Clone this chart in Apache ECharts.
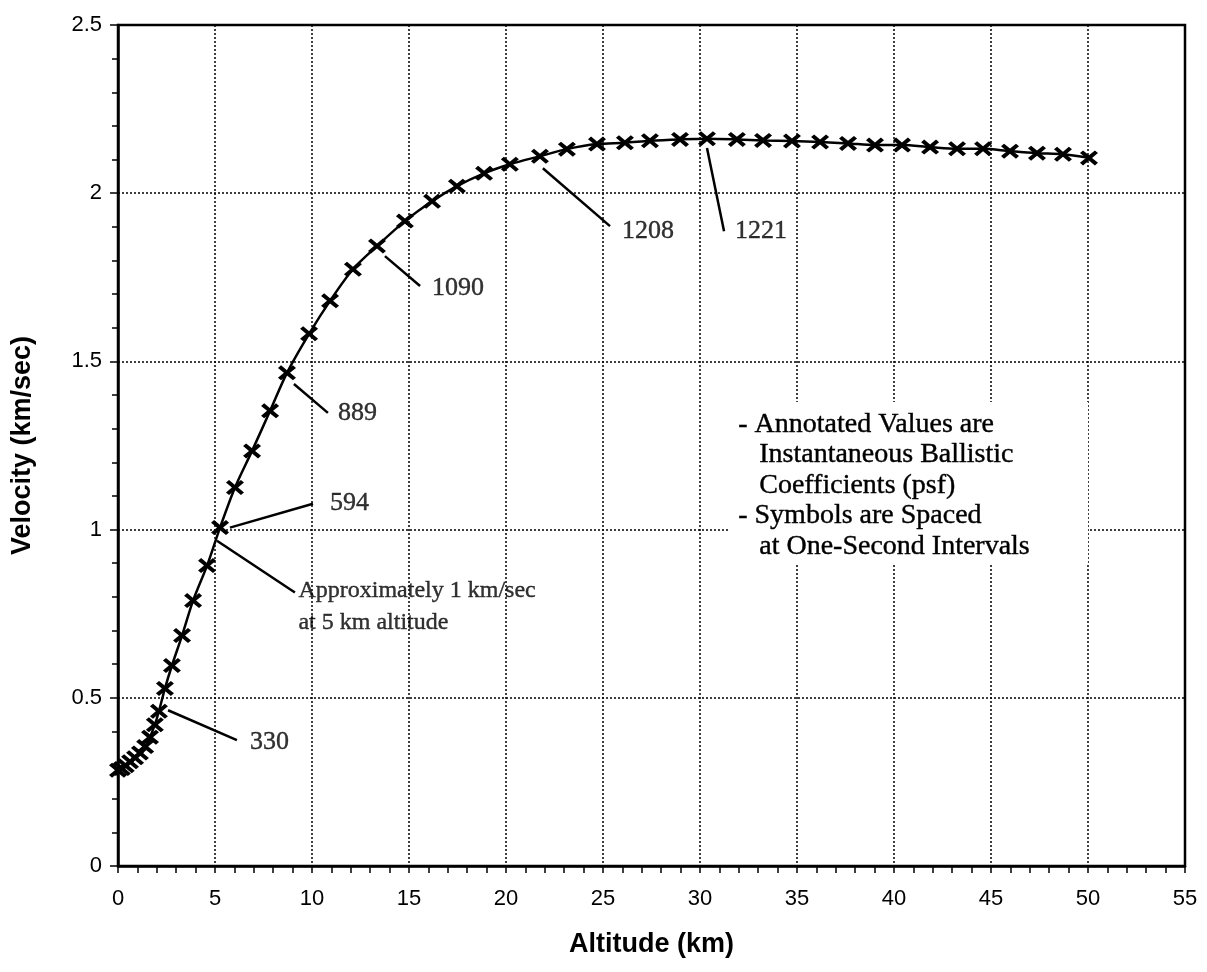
<!DOCTYPE html>
<html><head><meta charset="utf-8">
<script src="https://cdn.jsdelivr.net/npm/echarts@6/dist/echarts.min.js"></script>
<style>html,body{margin:0;padding:0;background:#fff}#c{width:1207px;height:972px}</style>
</head><body><div id="c"></div>
<script>
// Data (altitude km, velocity km/s), one-second intervals
const altitude = [0, 0.2, 0.4, 0.62, 0.88, 1.13, 1.4, 1.65, 1.9, 2.11, 2.42, 2.78, 3.3, 3.87, 4.59, 5.26, 6.03, 6.91, 7.84, 8.71, 9.85, 10.93, 12.11, 13.35, 14.79, 16.19, 17.47, 18.87, 20.2, 21.75, 23.14, 24.69, 26.13, 27.42, 28.97, 30.36, 31.9, 33.25, 34.74, 36.19, 37.63, 39.02, 40.41, 41.86, 43.25, 44.59, 45.98, 47.37, 48.71, 50.05];
const velocity = [0.285, 0.29, 0.298, 0.31, 0.322, 0.336, 0.355, 0.383, 0.42, 0.46, 0.528, 0.596, 0.685, 0.789, 0.893, 1.006, 1.125, 1.234, 1.353, 1.466, 1.582, 1.68, 1.774, 1.843, 1.917, 1.976, 2.021, 2.059, 2.086, 2.11, 2.131, 2.146, 2.150, 2.156, 2.160, 2.162, 2.160, 2.157, 2.155, 2.152, 2.148, 2.143, 2.143, 2.137, 2.132, 2.132, 2.125, 2.119, 2.116, 2.105];
const xTicks = [0, 5, 10, 15, 20, 25, 30, 35, 40, 45, 50, 55];
const yTicks = [0, 0.5, 1, 1.5, 2, 2.5];

// Annotations: label text, leader start [alt, vel], leader end, text anchor (left-middle)
const annLabels = ['330', '594', 'Approximately 1 km/sec\nat 5 km altitude', '889', '1090', '1208', '1221'];
const annStart = [[2.58, 0.463], [5.77, 1.006], [5.10, 0.967], [9.07, 1.433], [13.76, 1.813], [21.9, 2.074], [30.36, 2.134]];
const annEnd = [[6.13, 0.374], [10.05, 1.077], [9.12, 0.813], [10.82, 1.347], [15.57, 1.724], [25.36, 1.902], [31.24, 1.887]];
const annText = [[6.8, 0.368], [10.93, 1.080], [9.3, 0.771], [11.34, 1.347], [16.19, 1.718], [25.98, 1.887], [31.8, 1.887]];

const noteLines = ['- Annotated Values are', 'Instantaneous Ballistic', 'Coefficients (psf)', '- Symbols are Spaced', 'at One-Second Intervals'];
const noteIndent = [0, 1, 1, 0, 1];

const crossPath = 'path://M0,1.7L1.7,0L5,3.3L8.3,0L10,1.7L6.7,5L10,8.3L8.3,10L5,6.7L1.7,10L0,8.3L3.3,5Z';
const serif = '"Liberation Serif", "DejaVu Serif", serif';
const sans = '"Liberation Sans", Arial, sans-serif';

const chart = echarts.init(document.getElementById('c'), null, {renderer: 'canvas'});

const leaderSeries = annStart.map((s, i) => ({
  type: 'line', data: [s, annEnd[i]], symbol: 'none', silent: true,
  lineStyle: {color: '#000', width: 2.5}, z: 3, animation: false
}));

const noteGraphics = noteLines.map((t, i) => ({
  type: 'text', left: 738 + noteIndent[i] * 21, top: 410 + i * 30.5, z: 5,
  style: {text: t, font: '28px ' + serif, fill: '#000', stroke: '#000', lineWidth: 0.4}
}));

const option = {
  animation: false,
  backgroundColor: '#fff',
  grid: {left: 118, right: 22, top: 25, bottom: 106, show: true, borderColor: '#000', borderWidth: 2.5, backgroundColor: 'transparent'},
  xAxis: {
    type: 'value', min: xTicks[0], max: xTicks[xTicks.length - 1], interval: 5,
    name: 'Altitude (km)', nameLocation: 'middle', nameGap: 65,
    nameTextStyle: {fontFamily: sans, fontWeight: 'bold', fontSize: 27, color: '#000'},
    axisLine: {lineStyle: {color: '#000', width: 2.5}},
    axisTick: {show: true, length: 7, lineStyle: {color: '#000', width: 1.5}},
    minorTick: {show: true, splitNumber: 5, length: 7, lineStyle: {color: '#000', width: 1.5}},
    axisLabel: {fontFamily: sans, fontSize: 22, color: '#000', margin: 22},
    splitLine: {show: true, lineStyle: {color: '#000', width: 1.5, type: [2, 2]}}
  },
  yAxis: {
    type: 'value', min: yTicks[0], max: yTicks[yTicks.length - 1], interval: 0.5,
    name: 'Velocity (km/sec)', nameLocation: 'middle', nameGap: 82, nameRotate: 90,
    nameTextStyle: {fontFamily: sans, fontWeight: 'bold', fontSize: 27, color: '#000'},
    axisLine: {lineStyle: {color: '#000', width: 2.5}},
    axisTick: {show: true, length: 8, lineStyle: {color: '#000', width: 1.5}},
    minorTick: {show: true, splitNumber: 5, length: 6, lineStyle: {color: '#000', width: 1.5}},
    axisLabel: {fontFamily: sans, fontSize: 22, color: '#000', margin: 16},
    splitLine: {show: true, lineStyle: {color: '#000', width: 1.5, type: [2, 2]}}
  },
  graphic: [
    {type: 'rect', left: 728, top: 402, shape: {width: 360, height: 162}, style: {fill: '#fff'}, z: 1},
    ...noteGraphics
  ],
  series: [
    {
      type: 'line', data: altitude.map((a, i) => [a, velocity[i]]),
      smooth: 0.3, symbol: crossPath, symbolSize: [18, 15], showAllSymbol: true,
      lineStyle: {color: '#000', width: 2.5}, itemStyle: {color: '#000'}, z: 4
    },
    ...leaderSeries,
    {
      type: 'scatter', symbolSize: 0, silent: true, z: 5,
      data: annText.map((p, i) => ({value: p, label: {fontSize: annLabels[i].length > 5 ? 24 : 26}})),
      label: {show: true, position: 'right', distance: 0,
        formatter: p => annLabels[p.dataIndex],
        fontFamily: serif, fontSize: 24, color: '#000', textBorderColor: '#000', textBorderWidth: 0.4,
        lineHeight: 32, align: 'left'}
    }
  ]
};
chart.setOption(option);
</script></body></html>
